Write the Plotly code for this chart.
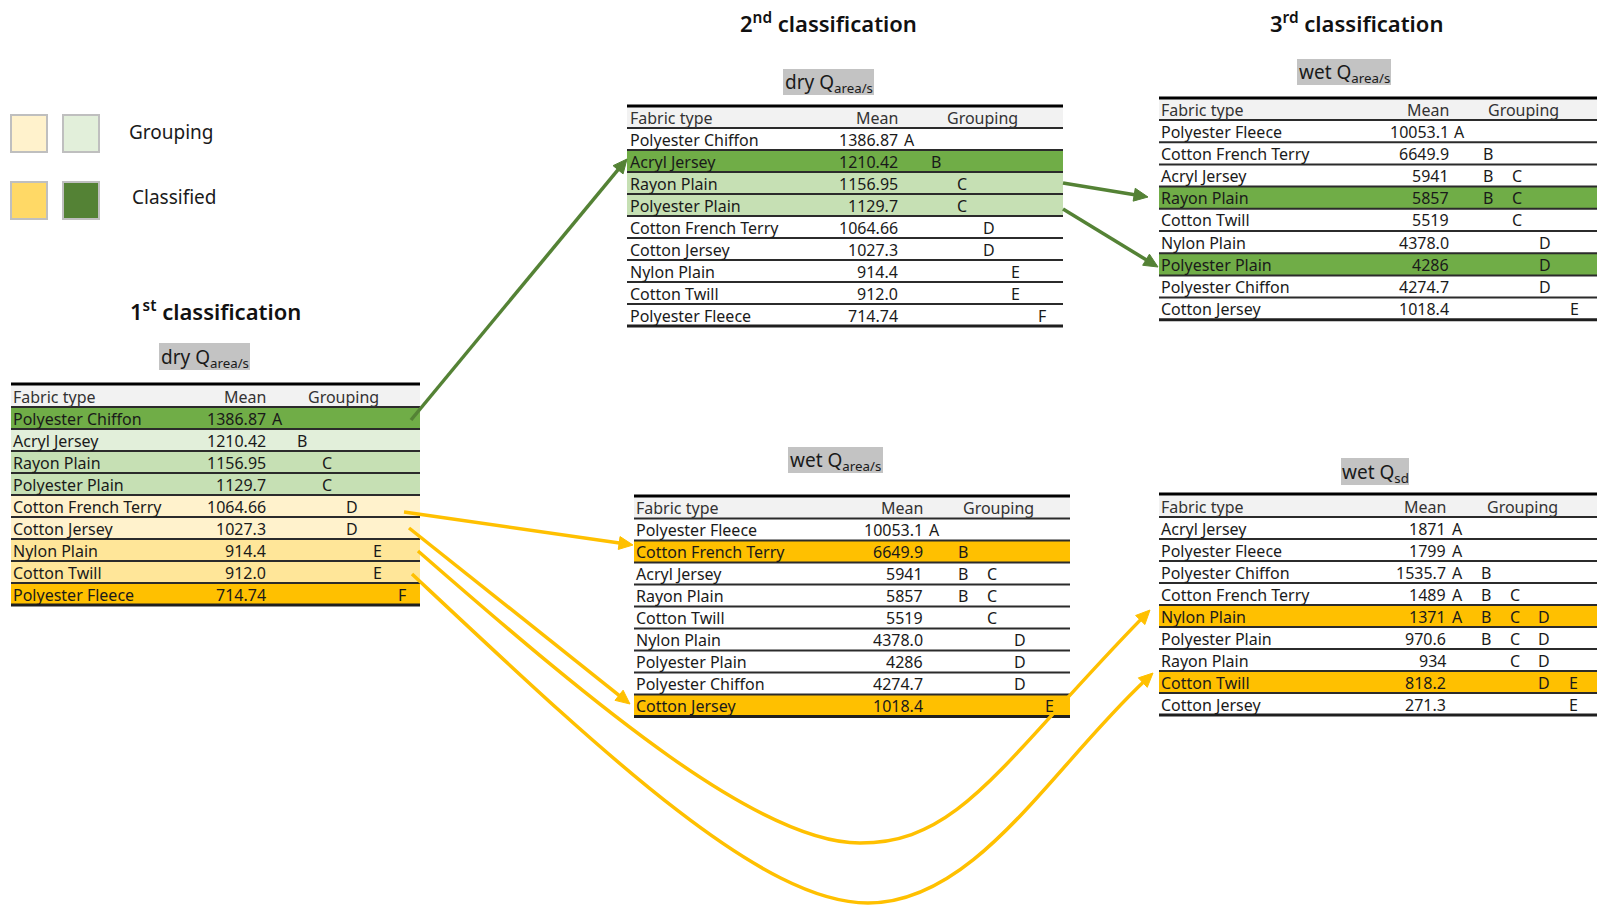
import math
import plotly.graph_objects as go

# ---------------- DATA ----------------
header_labels = ["Fabric type", "Mean", "Grouping"]
group_letters = ["A", "B", "C", "D", "E", "F"]

fabric_dry = ["Polyester Chiffon", "Acryl Jersey", "Rayon Plain", "Polyester Plain",
              "Cotton French Terry", "Cotton Jersey", "Nylon Plain", "Cotton Twill",
              "Polyester Fleece"]
mean_dry = ["1386.87", "1210.42", "1156.95", "1129.7", "1064.66", "1027.3",
            "914.4", "912.0", "714.74"]
group_dry = ["A", "B", "C", "C", "D", "D", "E", "E", "F"]

fabric_wet_area = ["Polyester Fleece", "Cotton French Terry", "Acryl Jersey", "Rayon Plain",
                   "Cotton Twill", "Nylon Plain", "Polyester Plain", "Polyester Chiffon",
                   "Cotton Jersey"]
mean_wet_area = ["10053.1", "6649.9", "5941", "5857", "5519", "4378.0", "4286",
                 "4274.7", "1018.4"]
group_wet_area = ["A", "B", "BC", "BC", "C", "D", "D", "D", "E"]

fabric_wet_sd = ["Acryl Jersey", "Polyester Fleece", "Polyester Chiffon", "Cotton French Terry",
                 "Nylon Plain", "Polyester Plain", "Rayon Plain", "Cotton Twill",
                 "Cotton Jersey"]
mean_wet_sd = ["1871", "1799", "1535.7", "1489", "1371", "970.6", "934", "818.2", "271.3"]
group_wet_sd = ["A", "A", "AB", "ABC", "ABCD", "BCD", "CD", "DE", "E"]

stage_titles = ["1<sup>st</sup> classification", "2<sup>nd</sup> classification",
                "3<sup>rd</sup> classification"]
legend_labels = ["Grouping", "Classified"]

# ---------------- STYLE ----------------
FONT = "Noto Sans"
TXT = "#1a1a1a"
G_DARK, G_MID, G_LIGHT = "#70AD47", "#C6E0B4", "#E2EFDA"
Y_DARK, Y_MID, Y_LIGHT = "#FFC000", "#FFE699", "#FFF2CC"
W = "#FFFFFF"
HEAD = "#F2F2F2"
LABEL_BG = "#C3C3C3"
ARROW_G = "#548235"
ARROW_Y = "#FFC000"

fills_1st = [G_DARK, G_LIGHT, G_MID, G_MID, Y_LIGHT, Y_LIGHT, Y_MID, Y_MID, Y_DARK]
fills_2nd = [W, G_DARK, G_MID, G_MID, W, W, W, W, W]
fills_3rd = [W, W, W, G_DARK, W, W, G_DARK, W, W]
fills_wet2 = [W, Y_DARK, W, W, W, W, W, W, Y_DARK]
fills_sd = [W, W, W, W, Y_DARK, W, W, Y_DARK, W]

tables = [
    dict(fab=fabric_dry, mean=mean_dry, grp=group_dry, fills=fills_1st,
         x0=11, x1=420, top=384, hh=23, rh=22.0, fx=13, mx=266, ax=277, dx=25.0, gx=343,
         label="dry Q<sub>area/s</sub>", lbox=(159, 250, 343, 370)),
    dict(fab=fabric_dry, mean=mean_dry, grp=group_dry, fills=fills_2nd,
         x0=627, x1=1063, top=106, hh=22, rh=22.0, fx=630, mx=898, ax=909, dx=26.6, gx=982,
         label="dry Q<sub>area/s</sub>", lbox=(783, 874, 69, 95)),
    dict(fab=fabric_wet_area, mean=mean_wet_area, grp=group_wet_area, fills=fills_3rd,
         x0=1159, x1=1597, top=98, hh=22, rh=22.2, fx=1161, mx=1449, ax=1459, dx=28.8, gx=1523,
         label="wet Q<sub>area/s</sub>", lbox=(1297, 1391, 59, 85)),
    dict(fab=fabric_wet_area, mean=mean_wet_area, grp=group_wet_area, fills=fills_wet2,
         x0=634, x1=1070, top=496, hh=22.5, rh=22.0, fx=636, mx=923, ax=934, dx=28.8, gx=998,
         label="wet Q<sub>area/s</sub>", lbox=(788, 883, 447, 473)),
    dict(fab=fabric_wet_sd, mean=mean_wet_sd, grp=group_wet_sd, fills=fills_sd,
         x0=1159, x1=1597, top=494, hh=23, rh=22.0, fx=1161, mx=1446, ax=1457, dx=29.0, gx=1522,
         label="wet Q<sub>sd</sub>", lbox=(1341, 1409, 458, 485)),
]

TFS = 16  # table font size

fig = go.Figure()
fig.add_trace(go.Scatter(x=[0, 1597], y=[0, 906], mode="markers",
                         marker=dict(opacity=0), hoverinfo="skip"))

shapes = []
ann = []


def add_text(x, y, text, size=TFS, xanchor="left", color=TXT, weight=None):
    f = dict(family=FONT, size=size, color=color)
    if weight:
        f["weight"] = weight
    ann.append(dict(x=x, y=y, xref="x", yref="y", text=text, showarrow=False,
                    xanchor=xanchor, yanchor="middle", font=f, borderpad=0,
                    borderwidth=0))


def hline(x0, x1, y, w, color):
    shapes.append(dict(type="line", x0=x0, x1=x1, y0=y, y1=y, xref="x", yref="y",
                       line=dict(color=color, width=w), layer="above"))


for t in tables:
    x0, x1, top, hh, rh = t["x0"], t["x1"], t["top"], t["hh"], t["rh"]
    # label box
    lx0, lx1, ly0, ly1 = t["lbox"]
    shapes.append(dict(type="rect", x0=lx0, x1=lx1, y0=ly0, y1=ly1, xref="x", yref="y",
                       fillcolor=LABEL_BG, line=dict(width=0), layer="below"))
    add_text((lx0 + lx1) / 2, (ly0 + ly1) / 2 + 1, t["label"], size=19, xanchor="center")
    # header
    shapes.append(dict(type="rect", x0=x0, x1=x1, y0=top, y1=top + hh, xref="x", yref="y",
                       fillcolor=HEAD, line=dict(width=0), layer="below"))
    hc = top + hh / 2 + 1
    add_text(t["fx"], hc, header_labels[0], color="#333333")
    add_text(t["mx"], hc, header_labels[1], xanchor="right", color="#333333")
    add_text(t["gx"], hc, header_labels[2], xanchor="center", color="#333333")
    # rows
    n = len(t["fab"])
    for i, (fab, mean, grp, fc) in enumerate(zip(t["fab"], t["mean"], t["grp"], t["fills"])):
        ry0 = top + hh + i * rh
        ry1 = ry0 + rh
        shapes.append(dict(type="rect", x0=x0, x1=x1, y0=ry0, y1=ry1, xref="x", yref="y",
                           fillcolor=fc, line=dict(width=0), layer="below"))
        yc = (ry0 + ry1) / 2 + 0.5
        add_text(t["fx"], yc, fab)
        add_text(t["mx"], yc, mean, xanchor="right")
        for letter in grp:
            k = group_letters.index(letter)
            add_text(t["ax"] + k * t["dx"], yc, letter, xanchor="center")
        last = i == n - 1
        hline(x0, x1, ry1, 3 if last else 2, "#1f1f1f" if last else "#2b2b2b")
    hline(x0, x1, top, 3, "#000000")
    hline(x0, x1, top + hh, 2, "#2b2b2b")

# stage titles
title_pos = [(215, 310), (828, 22), (1356, 22)]
for (x, y), txt in zip(title_pos, stage_titles):
    add_text(x, y, txt, size=22, xanchor="center", color="#111111", weight=600)

# legend
legend_sq = [((11, 47, 115, 152), Y_LIGHT), ((63, 99, 115, 152), G_LIGHT),
             ((11, 47, 182, 219), "#FFD966"), ((63, 99, 182, 219), ARROW_G)]
for (a, b, c, d), col in legend_sq:
    shapes.append(dict(type="rect", x0=a, x1=b, y0=c, y1=d, xref="x", yref="y",
                       fillcolor=col, line=dict(color="#BFBFBF", width=2)))
add_text(129, 132, legend_labels[0], size=19)
add_text(132, 197, legend_labels[1], size=19)


# ---------------- CONNECTORS ----------------
def head(tip, frm, color, L=14, Wd=13):
    ux, uy = tip[0] - frm[0], tip[1] - frm[1]
    nrm = math.hypot(ux, uy)
    ux, uy = ux / nrm, uy / nrm
    bx, by = tip[0] - L * ux, tip[1] - L * uy
    px, py = -uy, ux
    p1 = (bx + Wd / 2 * px, by + Wd / 2 * py)
    p2 = (bx - Wd / 2 * px, by - Wd / 2 * py)
    shapes.append(dict(type="path", xref="x", yref="y",
                       path=f"M {tip[0]},{tip[1]} L {p1[0]},{p1[1]} L {p2[0]},{p2[1]} Z",
                       fillcolor=color, line=dict(color=color, width=1), layer="above"))
    return (tip[0] - (L - 2) * ux, tip[1] - (L - 2) * uy)


def straight(p0, tip, color):
    end = head(tip, p0, color)
    shapes.append(dict(type="path", xref="x", yref="y",
                       path=f"M {p0[0]},{p0[1]} L {end[0]},{end[1]}",
                       line=dict(color=color, width=3.5), layer="above"))


def curved(p0, c1, c2, mid, c3, c4, tip, color):
    end = head(tip, c4, color)
    path = (f"M {p0[0]},{p0[1]} C {c1[0]},{c1[1]} {c2[0]},{c2[1]} {mid[0]},{mid[1]} "
            f"C {c3[0]},{c3[1]} {c4[0]},{c4[1]} {end[0]},{end[1]}")
    shapes.append(dict(type="path", xref="x", yref="y", path=path,
                       line=dict(color=color, width=3.5), layer="above"))


straight((411, 420), (627, 159), ARROW_G)
straight((1063, 183), (1148, 197), ARROW_G)
straight((1063, 209), (1158, 267), ARROW_G)
straight((404, 512), (633, 545), ARROW_Y)
straight((409, 528), (630, 704), ARROW_Y)
curved((418, 551), (600, 710), (760, 843), (860, 843), (960, 843), (1000, 764), (1150, 610), ARROW_Y)
curved((412, 574), (602, 752), (760, 903), (868, 903), (975, 903), (1050, 770), (1153, 673), ARROW_Y)

fig.update_layout(
    width=1597, height=906, autosize=False,
    margin=dict(l=0, r=0, t=0, b=0),
    paper_bgcolor="white", plot_bgcolor="white",
    showlegend=False,
    xaxis=dict(range=[0, 1597], visible=False, fixedrange=True),
    yaxis=dict(range=[906, 0], visible=False, fixedrange=True),
    shapes=shapes, annotations=ann,
    hovermode=False,
)

fig.write_html("out.html", config={"displayModeBar": False},
               post_script="document.body.style.margin='0';document.body.style.overflow='hidden';")
